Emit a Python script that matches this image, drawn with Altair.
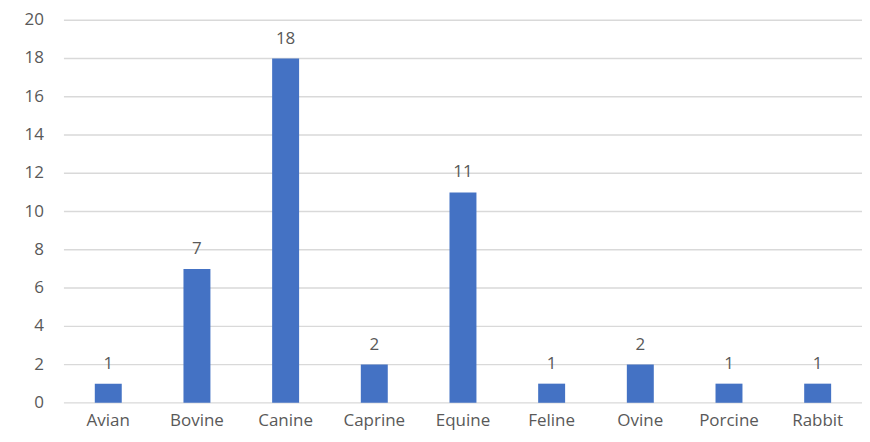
import altair as alt
import pandas as pd

categories = ["Avian", "Bovine", "Canine", "Caprine", "Equine", "Feline", "Ovine", "Porcine", "Rabbit"]
counts = [1, 7, 18, 2, 11, 1, 2, 1, 1]
y_ticks = [0, 2, 4, 6, 8, 10, 12, 14, 16, 18, 20]

df = pd.DataFrame({"species": categories, "count": counts})
ticks_df = pd.DataFrame({"v": y_ticks})

FONT = "Open Sans"
TXT = "#595959"

yscale = alt.Scale(domain=[0, 20], nice=False)

x = alt.X("species:N", sort=categories, title=None,
          scale=alt.Scale(paddingInner=0.696, paddingOuter=0.348),
          axis=alt.Axis(labelAngle=0, domain=False, ticks=False, labelPadding=10,
                        labelFont=FONT, labelFontSize=17, labelColor=TXT))
y = alt.Y("count:Q", title=None, scale=yscale, axis=None)

grid = alt.Chart(ticks_df).mark_rule(color="#D9D9D9", strokeWidth=1.3).encode(
    y=alt.Y("v:Q", scale=yscale, axis=None))
ylabels = alt.Chart(ticks_df).mark_text(align="right", baseline="middle", font=FONT,
                                        fontSize=17, color=TXT).encode(
    y=alt.Y("v:Q", scale=yscale, axis=None), x=alt.value(-20), text="v:Q")

base = alt.Chart(df).encode(x=x, y=y)
bars = base.mark_bar(color="#4472C4")
labels = base.mark_text(baseline="bottom", dy=-11, font=FONT, fontSize=17, color=TXT).encode(text="count:Q")

chart = (grid + ylabels + bars + labels).properties(
    width=799, height=383,
    autosize=alt.AutoSizeParams(type="none"),
    padding={"left": 56, "top": 12, "right": 0, "bottom": 30},
    background="white",
).configure_view(stroke=None)

chart.save("out.html", embed_options={"renderer": "svg", "actions": False})
